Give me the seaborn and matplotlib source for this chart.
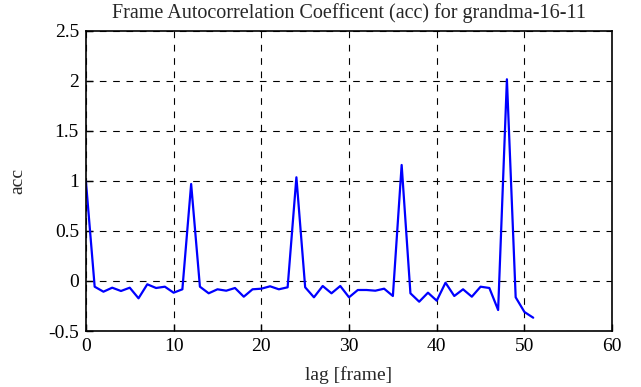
import numpy as np
import pandas as pd
import matplotlib
matplotlib.use("Agg")
import matplotlib.pyplot as plt
import seaborn as sns

# lag values (frames) and autocorrelation coefficients
lags = list(range(52))
acc = [1.00, -0.057, -0.107, -0.067, -0.10, -0.067, -0.173, -0.033, -0.07, -0.057,
       -0.117, -0.083, 0.97, -0.057, -0.123, -0.083, -0.097, -0.07, -0.157, -0.083,
       -0.077, -0.053, -0.083, -0.063, 1.037, -0.063, -0.163, -0.05, -0.123, -0.05,
       -0.163, -0.09, -0.09, -0.097, -0.077, -0.15, 1.16, -0.123, -0.207, -0.117,
       -0.197, -0.017, -0.15, -0.083, -0.157, -0.057, -0.07, -0.29, 2.017, -0.163,
       -0.31, -0.367]

x_ticks = [0, 10, 20, 30, 40, 50, 60]
y_ticks = [-0.5, 0, 0.5, 1, 1.5, 2, 2.5]
y_labels = ['-0.5', '0', '0.5', '1', '1.5', '2', '2.5']

df = pd.DataFrame({'lag': lags, 'acc': acc})

sns.set_style('white')
plt.rcParams['font.family'] = ['Liberation Serif', 'DejaVu Serif']

fig = plt.figure(figsize=(6.41, 3.87), dpi=100)
ax = fig.add_axes([0.134, 0.1447, 0.821, 0.7753])

sns.lineplot(data=df, x='lag', y='acc', color='#0000ff', linewidth=1.6, ax=ax)

ax.set_xlim(0, 60)
ax.set_ylim(-0.5, 2.5)
ax.set_xticks(x_ticks)
ax.set_yticks(y_ticks)
ax.set_yticklabels(y_labels)
ax.grid(True, color='black', linestyle=(0, (6, 6)), linewidth=0.8)
ax.tick_params(direction='in', length=5, width=1, colors='black', labelsize=14, pad=5,
               top=False, right=False, left=True, bottom=True)
for s in ax.spines.values():
    s.set_color('black')
    s.set_linewidth(1.2)

ax.set_xlabel('lag [frame]', fontsize=14, labelpad=8)
ax.set_ylabel('acc', fontsize=14, labelpad=16)
ax.set_title('Frame Autocorrelation Coefficent (acc) for grandma-16-11', fontsize=14.5, pad=9)

fig.savefig('out.png', dpi=100)
